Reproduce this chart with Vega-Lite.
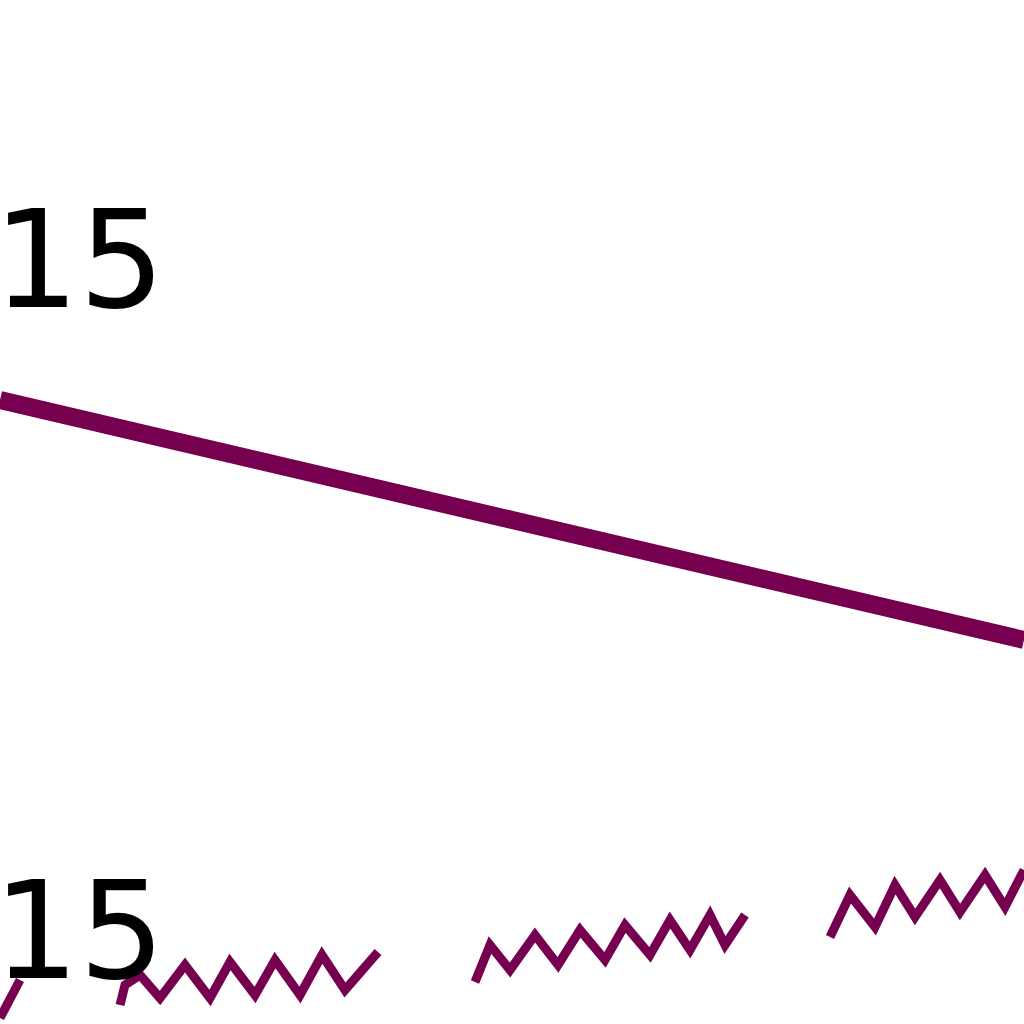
{
"$schema":"https://vega.github.io/schema/vega-lite/v6.json",
"width":1024,"height":1024,"padding":0,"autosize":{"type":"none"},
"config":{"view":{"stroke":null}},
"datasets":{
"labels":[{"x":165,"y":307,"t":"215"},{"x":165,"y":978,"t":"215"}],
"main":[{"x":0,"y":400},{"x":1024,"y":640}],
"wave":[
{"s":"a","x":0,"y":1018},{"s":"a","x":20,"y":980},
{"s":"b","x":120,"y":1005},{"s":"b","x":125,"y":985},{"s":"b","x":140,"y":975},{"s":"b","x":160,"y":998},{"s":"b","x":185,"y":965},{"s":"b","x":210,"y":998},{"s":"b","x":230,"y":962},{"s":"b","x":255,"y":995},{"s":"b","x":275,"y":960},{"s":"b","x":300,"y":995},{"s":"b","x":322,"y":955},{"s":"b","x":345,"y":990},{"s":"b","x":378,"y":952},
{"s":"c","x":475,"y":982},{"s":"c","x":490,"y":945},{"s":"c","x":510,"y":970},{"s":"c","x":535,"y":935},{"s":"c","x":558,"y":965},{"s":"c","x":580,"y":930},{"s":"c","x":605,"y":960},{"s":"c","x":625,"y":925},{"s":"c","x":650,"y":955},{"s":"c","x":670,"y":920},{"s":"c","x":690,"y":950},{"s":"c","x":710,"y":915},{"s":"c","x":725,"y":945},{"s":"c","x":745,"y":915},
{"s":"d","x":830,"y":937},{"s":"d","x":850,"y":895},{"s":"d","x":875,"y":927},{"s":"d","x":895,"y":885},{"s":"d","x":915,"y":917},{"s":"d","x":940,"y":880},{"s":"d","x":960,"y":912},{"s":"d","x":985,"y":875},{"s":"d","x":1005,"y":907},{"s":"d","x":1024,"y":870}
]},
"layer":[
{"data":{"name":"main"},"mark":{"type":"line","color":"#76004f","strokeWidth":18},
"encoding":{"x":{"field":"x","type":"quantitative","scale":{"domain":[0,1024]},"axis":null},"y":{"field":"y","type":"quantitative","scale":{"domain":[1024,0]},"axis":null}}},
{"data":{"name":"wave"},"mark":{"type":"line","color":"#76004f","strokeWidth":9},
"encoding":{"detail":{"field":"s"},"x":{"field":"x","type":"quantitative","scale":{"domain":[0,1024]},"axis":null},"y":{"field":"y","type":"quantitative","scale":{"domain":[1024,0]},"axis":null}}},
{"data":{"name":"labels"},"mark":{"type":"text","align":"right","baseline":"alphabetic","fontSize":135,"font":"Liberation Sans Narrow, DejaVu Sans","color":"#000"},
"encoding":{"text":{"field":"t"},"x":{"field":"x","type":"quantitative","scale":{"domain":[0,1024]},"axis":null},"y":{"field":"y","type":"quantitative","scale":{"domain":[1024,0]},"axis":null}}}
]}
